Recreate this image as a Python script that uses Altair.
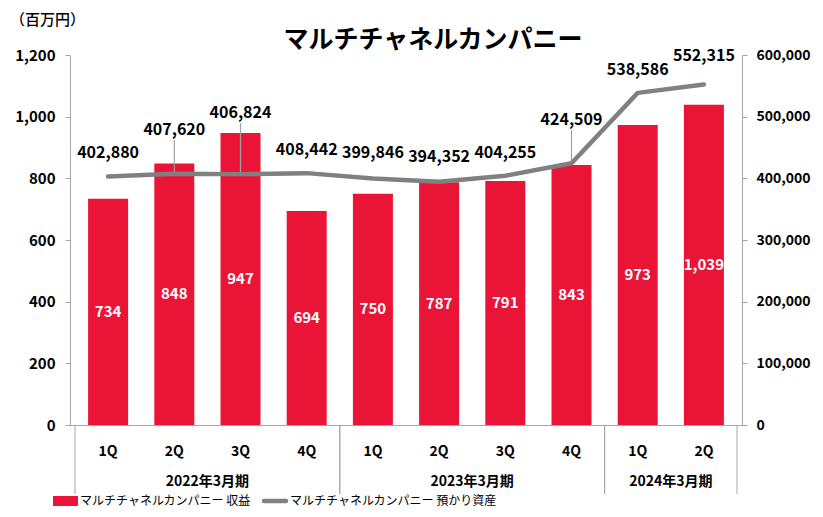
import altair as alt
import pandas as pd

years = ["2022年3月期"] * 4 + ["2023年3月期"] * 4 + ["2024年3月期"] * 2
quarters = ["1Q", "2Q", "3Q", "4Q", "1Q", "2Q", "3Q", "4Q", "1Q", "2Q"]
revenue = [734, 848, 947, 694, 750, 787, 791, 843, 973, 1039]
assets = [402880, 407620, 406824, 408442, 399846, 394352, 404255, 424509, 538586, 552315]
label_dy = [24, 44, 61, 23, 25, 25, 23, 43, 23, 28]
leader = [0, 1, 1, 0, 0, 0, 0, 1, 0, 0]
title_text = "マルチチャネルカンパニー"
unit_text = "（百万円）"
legend_labels = ["マルチチャネルカンパニー 収益", "マルチチャネルカンパニー 預かり資産"]

W, H = 672, 370
FONT = "Noto Sans CJK JP"
RED = "#EA1436"
GRAY = "#808080"
AXC = "#a6a6a6"
A_MAX = 600000

df = pd.DataFrame({
    "idx": list(range(len(quarters))),
    "year": years,
    "q": quarters,
    "rev": revenue,
    "assets": assets,
    "dy": label_dy,
    "lead": leader,
})

base = alt.Chart(df)
xq = alt.X("idx:Q", scale=alt.Scale(domain=[-0.5, len(quarters) - 0.5], nice=False, zero=False),
           axis=alt.Axis(labels=False, ticks=False, grid=False, domain=True, domainColor=AXC, title=None))
xq2 = alt.X("idx:Q")

yl = alt.Y("rev:Q", scale=alt.Scale(domain=[0, 1200], nice=False),
           axis=alt.Axis(orient="left", values=[0, 200, 400, 600, 800, 1000, 1200], format=",d",
                         grid=False, domainColor=AXC, tickColor=AXC, tickSize=5, labelPadding=10,
                         labelFont=FONT, labelFontSize=15, labelFontWeight="bold", labelColor="#000",
                         title=None))

bars = base.mark_bar(size=40, color=RED).encode(x=xq, y=yl)
bar_lbl = base.transform_calculate(mid="datum.rev/2").mark_text(
    color="white", font=FONT, fontSize=15, fontWeight="bold"
).encode(x=xq2, y=alt.Y("mid:Q"), text=alt.Text("rev:Q", format=",d"))

q_lbl = base.mark_text(font=FONT, fontSize=14, fontWeight="bold", color="#000").encode(
    x=xq2, y=alt.value(H + 27), text="q:N")
yr_lbl = base.transform_aggregate(mid="mean(idx)", groupby=["year"]).mark_text(
    font=FONT, fontSize=14, fontWeight="bold", color="#000").encode(
    x=alt.X("mid:Q"), y=alt.value(H + 57), text="year:N")
seps = base.transform_aggregate(lo="min(idx)", hi="max(idx)", groupby=["year"]).transform_calculate(
    a="datum.lo - 0.5", b="datum.hi + 0.5").transform_fold(["a", "b"]).mark_rule(
    color=AXC, strokeWidth=1).encode(x=alt.X("value:Q"), y=alt.value(H), y2=alt.value(H + 69))

left = alt.layer(bars, bar_lbl, q_lbl, yr_lbl, seps)

yr = alt.Y("assets:Q", scale=alt.Scale(domain=[0, A_MAX], nice=False),
           axis=alt.Axis(orient="right", values=[0, 100000, 200000, 300000, 400000, 500000, 600000],
                         format=",d", grid=False, domainColor=AXC, tickColor=AXC, tickSize=5,
                         labelPadding=9, labelFont=FONT, labelFontSize=14, labelFontWeight="bold",
                         labelColor="#000", title=None))
line = base.mark_line(color=GRAY, strokeWidth=4.5, interpolate="linear", strokeJoin="round",
                      strokeCap="round").encode(x=xq2, y=yr)
pxu = A_MAX / H
line_lbl = base.transform_calculate(ly=f"datum.assets + datum.dy*{pxu}").mark_text(
    font=FONT, fontSize=16, fontWeight="bold", color="#000").encode(
    x=xq2, y=alt.Y("ly:Q"), text=alt.Text("assets:Q", format=",d"))
leads = base.transform_filter("datum.lead == 1").transform_calculate(
    y1=f"datum.assets + 2*{pxu}", y2=f"datum.assets + (datum.dy - 10)*{pxu}").mark_rule(
    color="#a0a0a0", strokeWidth=1.2).encode(x=xq2, y=alt.Y("y1:Q"), y2="y2:Q")

right = alt.layer(leads, line, line_lbl)

# title, unit note and legend
title = alt.Chart(pd.DataFrame({"t": [title_text]})).mark_text(
    font=FONT, fontSize=25, fontWeight="bold", color="#000").encode(
    x=alt.value(W / 2 + 27), y=alt.value(-15), text="t:N")
unit = alt.Chart(pd.DataFrame({"t": [unit_text]})).mark_text(
    font=FONT, fontSize=15, align="left", color="#000", fontWeight=500).encode(
    x=alt.value(-60), y=alt.value(-35), text="t:N")
legend_df = pd.DataFrame({"t": legend_labels})
LY = 446
leg_rect = alt.Chart(legend_df.iloc[[0]]).mark_rect(color=RED).encode(
    x=alt.value(-17), x2=alt.value(8), y=alt.value(LY - 5), y2=alt.value(LY + 5))
leg_line = alt.Chart(legend_df.iloc[[1]]).mark_rule(color=GRAY, strokeWidth=4.5, strokeCap="round").encode(
    x=alt.value(194), x2=alt.value(216), y=alt.value(LY))
leg_t1 = alt.Chart(legend_df.iloc[[0]]).mark_text(font=FONT, fontSize=12, align="left", color="#000").encode(
    x=alt.value(10), y=alt.value(LY), text="t:N")
leg_t2 = alt.Chart(legend_df.iloc[[1]]).mark_text(font=FONT, fontSize=12, align="left", color="#000").encode(
    x=alt.value(220), y=alt.value(LY), text="t:N")
extras = alt.layer(title, unit, leg_rect, leg_line, leg_t1, leg_t2)

chart = alt.layer(left, right, extras).resolve_scale(y="independent").properties(
    width=W, height=H,
    autosize=alt.AutoSizeParams(type="none"),
    padding={"left": 62, "top": 47, "right": 73, "bottom": 84},
).configure_view(stroke=None)

chart.save("out.html", embed_options={"renderer": "svg", "actions": False})
